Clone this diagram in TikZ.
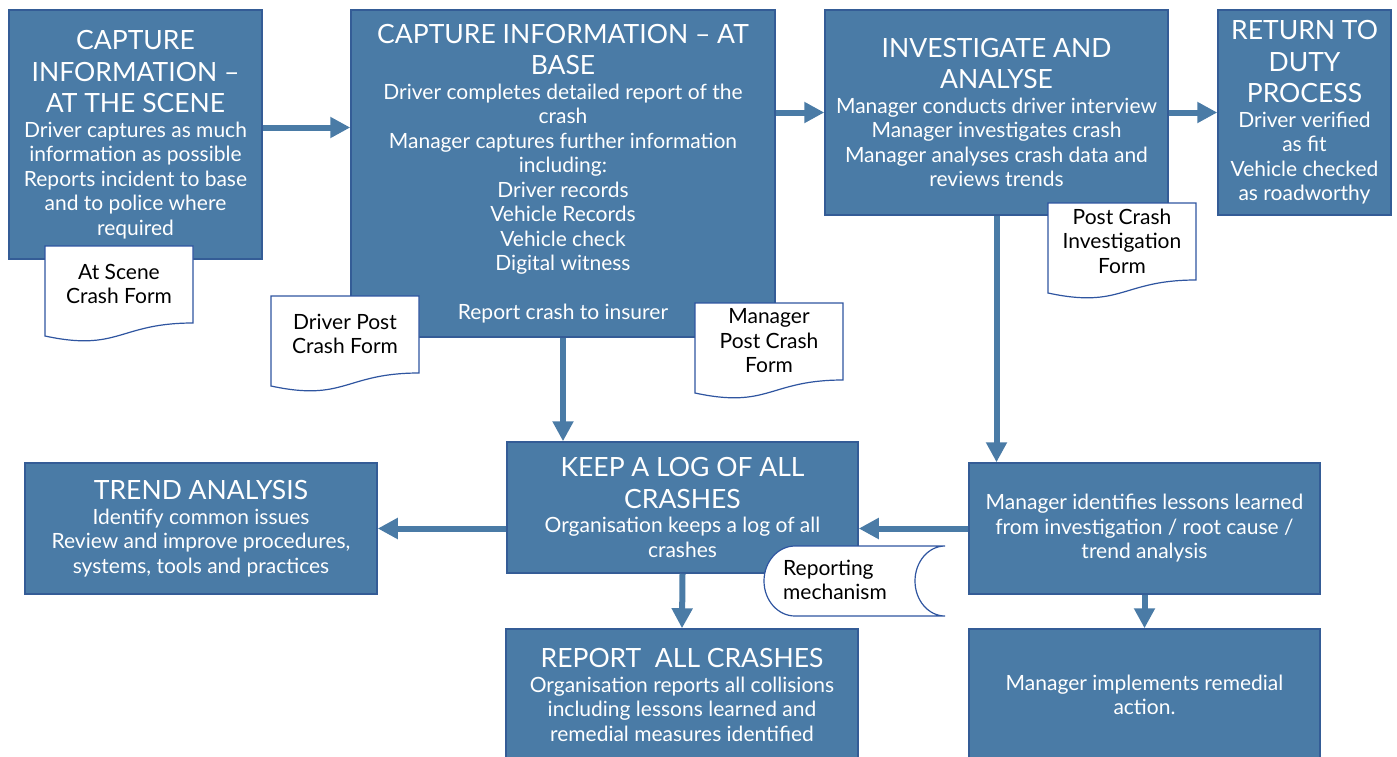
\documentclass[tikz,border=0pt]{standalone}
\usepackage{fontspec}
\setmainfont{Lato}
\usetikzlibrary{positioning,calc,arrows.meta}
\definecolor{boxblue}{RGB}{74,123,166}
\definecolor{edgeblue}{RGB}{52,92,150}
\definecolor{formblue}{RGB}{47,85,160}
\newcommand\hd{\fontsize{26.5}{32}\selectfont}
\newcommand\bd{\fontsize{21}{24.5}\selectfont}
\tikzset{box/.style args={#1/#2}{draw=edgeblue, line width=1.5pt, fill=boxblue, text=white, align=center, inner sep=0pt, minimum width=#1, minimum height=#2, font=\bd}}
\tikzset{arr/.style={draw=boxblue, line width=6pt, -{Triangle[length=20pt,width=20pt]}}}
\tikzset{formline/.style={draw=formblue, line width=1.2pt, fill=white}}
\tikzset{pics/docform/.style={code={
	\path[formline] (0,0) -- (148,0) -- (148,77) .. controls (74,77) and (74,106) .. (0,90) -- cycle;
	\node[font=\bd, align=center, inner sep=0pt] (-txt) at (74,38) {#1};
}}}

\begin{document}
\begin{tikzpicture}[x=1pt,y=-1pt]
	\useasboundingbox (0,0) rectangle (1397,756);
	% top row
	\node[box=253pt/249pt] (scene) at (135.5,134.5) {\hd CAPTURE\\[7pt]\hd INFORMATION –\\[7pt]\hd AT THE SCENE\\Driver captures as much\\information as possible\\Reports incident to base\\and to police where\\required};
	\node[box=424pt/327pt] (base) at (563,173.5) {\hd CAPTURE INFORMATION – AT\\[7pt]\hd BASE\\Driver completes detailed report of the\\crash\\Manager captures further information\\including:\\Driver records\\Vehicle Records\\Vehicle check\\Digital witness\\[24.5pt]Report crash to insurer};
	\node[box=343pt/205pt] (inv) at (996.5,112.5) {\hd INVESTIGATE AND\\[7pt]\hd ANALYSE\\Manager conducts driver interview\\Manager investigates crash\\Manager analyses crash data and\\reviews trends};
	\node[box=173pt/205pt] (ret) at (1304.5,112.5) {\hd RETURN TO\\[7pt]\hd DUTY\\[7pt]\hd PROCESS\\Driver verified\\as fit\\Vehicle checked\\as roadworthy};
	% lower rows
	\node[box=351pt/131pt] (log) at (682.5,507.5) {\hd KEEP A LOG OF ALL\\[7pt]\hd CRASHES\\Organisation keeps a log of all\\crashes};
	\node[box=352pt/131pt] (trend) at (201,528.5) {\hd TREND ANALYSIS\\Identify common issues\\Review and improve procedures,\\systems, tools and practices};
	\node[box=351pt/131pt] (les) at (1144.5,528.5) {Manager identifies lessons learned\\from investigation / root cause /\\trend analysis};
	\node[box=352pt/132pt] (rep) at (682,695) {\hd REPORT\ \ ALL CRASHES\\Organisation reports all collisions\\including lessons learned and\\remedial measures identified};
	\node[box=351pt/132pt] (impl) at (1144.5,695) {Manager implements remedial\\action.};
	%
	\coordinate (s1) at ([yshift=7pt]scene.east);
	\draw[arr] (s1) -- (s1 -| base.west);
	\draw[arr] (inv.west -| base.east) -- (inv.west);
	\draw[arr] (inv.east) -- (ret.west);
	\draw[arr] (base.south) -- (base.south |- log.north);
	\draw[arr] (inv.south) -- (inv.south |- les.north);
	\draw[arr] (les.west) -- (les.west -| log.east);
	\draw[arr] (trend.east -| log.west) -- (trend.east);
	\draw[arr] (log.south) -- (rep.north);
	\draw[arr] (les.south) -- (impl.north);
	% forms
	\pic (atform) at (45,246) {docform={At Scene\\Crash Form}};
	\pic (drvform) at (271,296) {docform={Driver Post\\Crash Form}};
	\pic (mgrform) at (695,303) {docform={Manager\\Post Crash\\Form}};
	\pic (invform) at (1048,203) {docform={Post Crash\\Investigation\\Form}};
	% stored data
	\path[formline] (795,546) -- (945,546) arc[start angle=270, end angle=90, x radius=30, y radius=35] -- (795,616) arc[start angle=90, end angle=270, x radius=31, y radius=35] -- cycle;
	\node[font=\bd, align=left, inner sep=0pt] (repmech) at (835,580) {Reporting\\mechanism};
\end{tikzpicture}
\end{document}
